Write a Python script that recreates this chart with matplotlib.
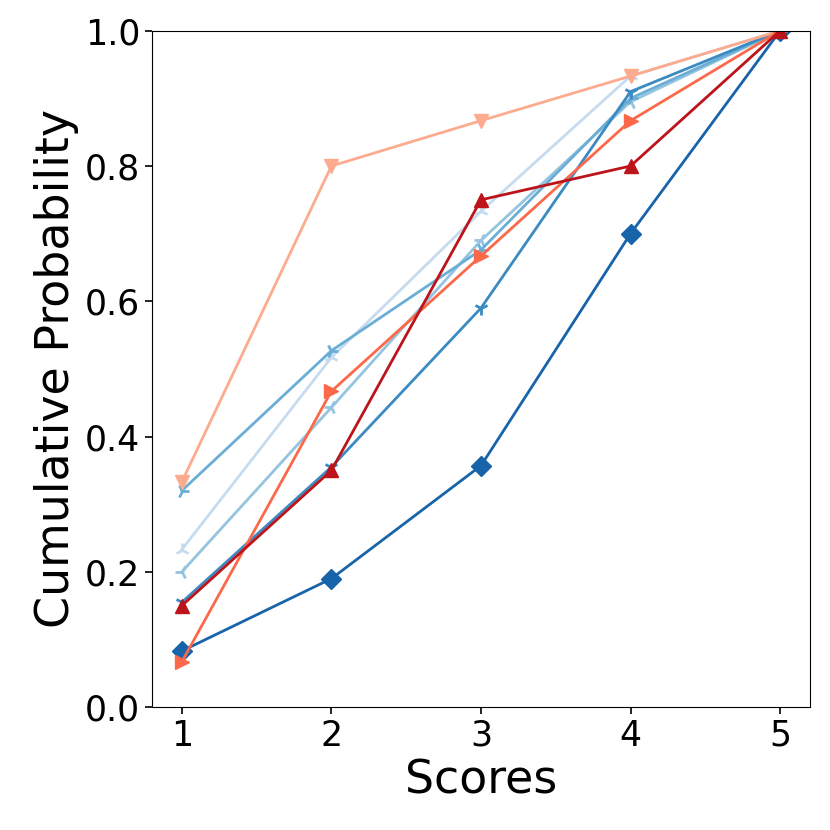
import numpy as np
import matplotlib.pyplot as plt

scores = [1, 2, 3, 4, 5]

# blue series (tri markers) and dark blue diamonds
blue_lightest = [0.233, 0.517, 0.733, 0.933, 1.0]
blue_light = [0.20, 0.443, 0.69, 0.895, 1.0]
blue_mid = [0.32, 0.527, 0.676, 0.90, 1.0]
blue_dark = [0.155, 0.355, 0.59, 0.91, 1.0]
blue_diamond = [0.083, 0.19, 0.357, 0.70, 1.0]

# red series (triangle markers)
red_light = [0.333, 0.80, 0.867, 0.933, 1.0]
red_mid = [0.067, 0.467, 0.667, 0.867, 1.0]
red_dark = [0.15, 0.35, 0.75, 0.80, 1.0]

blues = plt.get_cmap('Blues')
reds = plt.get_cmap('Reds')

fig = plt.figure(figsize=(8.3, 8.3), dpi=100)
ax = fig.add_axes([0.183, 0.148, 0.793, 0.815])

ax.plot(scores, blue_lightest, marker='2', color=blues(0.25), lw=2, ms=10, mew=2)
ax.plot(scores, blue_light, marker='3', color=blues(0.4), lw=2, ms=10, mew=2)
ax.plot(scores, blue_mid, marker='4', color=blues(0.5), lw=2, ms=10, mew=2)
ax.plot(scores, blue_dark, marker='1', color=blues(0.65), lw=2, ms=10, mew=2)
ax.plot(scores, blue_diamond, marker='D', color=blues(0.8), lw=2, ms=10)

ax.plot(scores, red_light, marker='v', color=reds(0.3), lw=2, ms=10)
ax.plot(scores, red_mid, marker='>', color=reds(0.5), lw=2, ms=10)
ax.plot(scores, red_dark, marker='^', color=reds(0.8), lw=2, ms=10)

ax.set_ylim(0, 1.0)
ax.set_xticks(scores)
ax.set_yticks([0.0, 0.2, 0.4, 0.6, 0.8, 1.0])
ax.tick_params(labelsize=25, length=5, width=1.2)
ax.set_xlabel('Scores', size=33)
ax.set_ylabel('Cumulative Probability', size=33)

plt.savefig('out.png')
